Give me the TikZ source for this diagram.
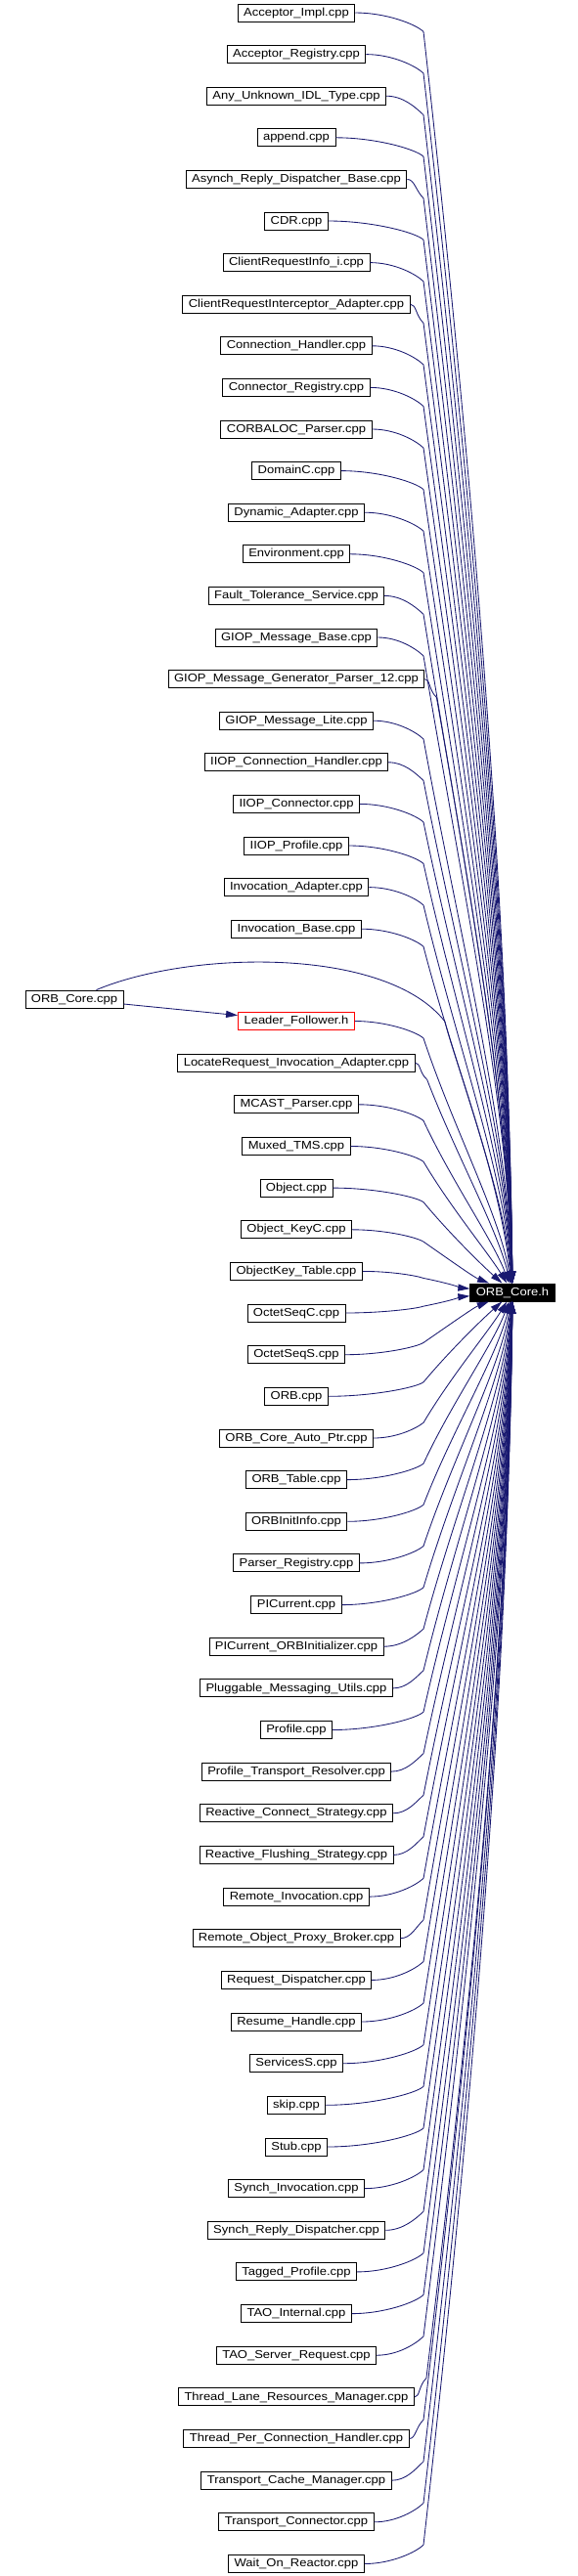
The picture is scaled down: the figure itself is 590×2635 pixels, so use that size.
\documentclass[tikz,border=0pt]{standalone}
\usepackage{fontspec}
\usepackage{xcolor}
\usepackage{tikz}
\usetikzlibrary{arrows.meta,calc}
\newfontfamily\dotfont{Liberation Sans}[FakeStretch=1.12]
\definecolor{edgeblue}{HTML}{191970}

\begin{document}
\begin{tikzpicture}[x=1pt, y=1pt,
  file/.style={draw, line width=0.9pt, minimum height=18pt, inner xsep=6pt, inner ysep=0pt,
    text height=8.6pt, text depth=2.4pt, font={\dotfont\fontsize{11.6pt}{13pt}\selectfont}},
  hfile/.style={file, draw=red},
  focus/.style={file, fill=black, text=white},
  arr/.style={draw=edgeblue, line width=0.85pt, -{Triangle[length=12pt,width=7pt]}},
  dep/.style={arr, to path={
    let \p1=(\tikztostart), \p2=(\tikztotarget),
        \n1={((\y2)-(\y1))/(abs((\y2)-(\y1))+40)*20},
        \n2={max(433,\x1+12)},
        \n3={(\y2)-(\y1)-(\n1)},
        \n4={520-50*exp(-abs(\n3)/150)},
        \n5={\n2+25+0.02*abs(\n3)}
    in .. controls (0.55*\x1+0.45*\n2, \y1) and (\n2-8, \y1+0.6*\n1) .. (\n2, \y1+\n1)
       .. controls (\n5, \y1+\n1+0.35*\n3) and (\n4, \y2-0.3*\n3) .. (\tikztotarget) \tikztonodes}}]
  \useasboundingbox (0,0) rectangle (590,-2635);
  % the header and the files that include it
  \node[focus] (core) at (524,-1322) {ORB\_Core.h};
  \node[file] (acceptorimpl) at (303,-13)    {Acceptor\_Impl.cpp};
  \node[file] (acceptorreg)  at (303,-55.6)  {Acceptor\_Registry.cpp};
  \node[file] (anyunknown)   at (303,-98.2)  {Any\_Unknown\_IDL\_Type.cpp};
  \node[file] (append)       at (303,-140.8) {append.cpp};
  \node[file] (asynchrdb)    at (303,-183.4) {Asynch\_Reply\_Dispatcher\_Base.cpp};
  \node[file] (cdr)          at (303,-226)   {CDR.cpp};
  \node[file] (cri)          at (303,-268.6) {ClientRequestInfo\_i.cpp};
  \node[file] (cria)         at (303,-311.2) {ClientRequestInterceptor\_Adapter.cpp};
  \node[file] (connhandler)  at (303,-353.8) {Connection\_Handler.cpp};
  \node[file] (connreg)      at (303,-396.4) {Connector\_Registry.cpp};
  \node[file] (corbaloc)     at (303,-439)   {CORBALOC\_Parser.cpp};
  \node[file] (domainc)      at (303,-481.6) {DomainC.cpp};
  \node[file] (dynadapter)   at (303,-524.2) {Dynamic\_Adapter.cpp};
  \node[file] (environment)  at (303,-566.8) {Environment.cpp};
  \node[file] (fts)          at (303,-609.4) {Fault\_Tolerance\_Service.cpp};
  \node[file] (giopbase)     at (303,-652)   {GIOP\_Message\_Base.cpp};
  \node[file] (giopgp)       at (303,-694.6) {GIOP\_Message\_Generator\_Parser\_12.cpp};
  \node[file] (gioplite)     at (303,-737.2) {GIOP\_Message\_Lite.cpp};
  \node[file] (iiopch)       at (303,-779.8) {IIOP\_Connection\_Handler.cpp};
  \node[file] (iiopconn)     at (303,-822.4) {IIOP\_Connector.cpp};
  \node[file] (iiopprofile)  at (303,-865)   {IIOP\_Profile.cpp};
  \node[file] (invadapter)   at (303,-907.6) {Invocation\_Adapter.cpp};
  \node[file] (invbase)      at (303,-950.2) {Invocation\_Base.cpp};
  \node[file] (orbcpp)       at (76,-1022)   {ORB\_Core.cpp};
  \node[hfile] (leader)      at (303,-1044.5) {Leader\_Follower.h};
  \node[file] (locatereq)    at (303,-1087.2) {LocateRequest\_Invocation\_Adapter.cpp};
  \node[file] (mcast)        at (303,-1129.8) {MCAST\_Parser.cpp};
  \node[file] (muxed)        at (303,-1172.5) {Muxed\_TMS.cpp};
  \node[file] (object)       at (303,-1215.1) {Object.cpp};
  \node[file] (objectkeyc)   at (303,-1257.8) {Object\_KeyC.cpp};
  \node[file] (objkeytable)  at (303,-1300.4) {ObjectKey\_Table.cpp};
  \node[file] (octetc)       at (303,-1343)   {OctetSeqC.cpp};
  \node[file] (octets)       at (303,-1385.7) {OctetSeqS.cpp};
  \node[file] (orb)          at (303,-1428.3) {ORB.cpp};
  \node[file] (orbautoptr)   at (303,-1471)   {ORB\_Core\_Auto\_Ptr.cpp};
  \node[file] (orbtable)     at (303,-1513.6) {ORB\_Table.cpp};
  \node[file] (orbinitinfo)  at (303,-1556.3) {ORBInitInfo.cpp};
  \node[file] (parserreg)    at (303,-1598.9) {Parser\_Registry.cpp};
  \node[file] (picurrent)    at (303,-1641.6) {PICurrent.cpp};
  \node[file] (picurinit)    at (303,-1684.2) {PICurrent\_ORBInitializer.cpp};
  \node[file] (pmu)          at (303,-1726.9) {Pluggable\_Messaging\_Utils.cpp};
  \node[file] (profile)      at (303,-1769.5) {Profile.cpp};
  \node[file] (ptr)          at (303,-1812.1) {Profile\_Transport\_Resolver.cpp};
  \node[file] (rcs)          at (303,-1854.8) {Reactive\_Connect\_Strategy.cpp};
  \node[file] (rfs)          at (303,-1897.4) {Reactive\_Flushing\_Strategy.cpp};
  \node[file] (reminv)       at (303,-1940.1) {Remote\_Invocation.cpp};
  \node[file] (ropb)         at (303,-1982.7) {Remote\_Object\_Proxy\_Broker.cpp};
  \node[file] (reqdisp)      at (303,-2025.4) {Request\_Dispatcher.cpp};
  \node[file] (resume)       at (303,-2068)   {Resume\_Handle.cpp};
  \node[file] (servicess)    at (303,-2110.7) {ServicesS.cpp};
  \node[file] (skip)         at (303,-2153.3) {skip.cpp};
  \node[file] (stub)         at (303,-2196)   {Stub.cpp};
  \node[file] (synchinv)     at (303,-2238.6) {Synch\_Invocation.cpp};
  \node[file] (synchrd)      at (303,-2281.3) {Synch\_Reply\_Dispatcher.cpp};
  \node[file] (tagged)       at (303,-2323.9) {Tagged\_Profile.cpp};
  \node[file] (taointernal)  at (303,-2366.6) {TAO\_Internal.cpp};
  \node[file] (taoserver)    at (303,-2409.2) {TAO\_Server\_Request.cpp};
  \node[file] (tlrm)         at (303,-2451.9) {Thread\_Lane\_Resources\_Manager.cpp};
  \node[file] (tpch)         at (303,-2494.5) {Thread\_Per\_Connection\_Handler.cpp};
  \node[file] (tcm)          at (303,-2537.2) {Transport\_Cache\_Manager.cpp};
  \node[file] (tconn)        at (303,-2579.8) {Transport\_Connector.cpp};
  \node[file] (wor)          at (303,-2622.5) {Wait\_On\_Reactor.cpp};
  % include edges
  \draw[arr] (orbcpp) -- (leader);
  \draw[arr] (orbcpp) .. controls (195,-972) and (395,-968) .. (455,-1045)
    .. controls (463,-1080) and (510,-1200) .. (core);
  \draw[dep] (acceptorimpl.east) to (core);
  \draw[dep] (acceptorreg.east) to (core);
  \draw[dep] (anyunknown.east) to (core);
  \draw[dep] (append.east) to (core);
  \draw[dep] (asynchrdb.east) to (core);
  \draw[dep] (cdr.east) to (core);
  \draw[dep] (cri.east) to (core);
  \draw[dep] (cria.east) to (core);
  \draw[dep] (connhandler.east) to (core);
  \draw[dep] (connreg.east) to (core);
  \draw[dep] (corbaloc.east) to (core);
  \draw[dep] (domainc.east) to (core);
  \draw[dep] (dynadapter.east) to (core);
  \draw[dep] (environment.east) to (core);
  \draw[dep] (fts.east) to (core);
  \draw[dep] (giopbase.east) to (core);
  \draw[dep] (giopgp.east) to (core);
  \draw[dep] (gioplite.east) to (core);
  \draw[dep] (iiopch.east) to (core);
  \draw[dep] (iiopconn.east) to (core);
  \draw[dep] (iiopprofile.east) to (core);
  \draw[dep] (invadapter.east) to (core);
  \draw[dep] (invbase.east) to (core);
  \draw[dep] (leader.east) to (core);
  \draw[dep] (locatereq.east) to (core);
  \draw[dep] (mcast.east) to (core);
  \draw[dep] (muxed.east) to (core);
  \draw[dep] (object.east) to (core);
  \draw[dep] (objectkeyc.east) to (core);
  \draw[dep] (objkeytable.east) to (core);
  \draw[dep] (octetc.east) to (core);
  \draw[dep] (octets.east) to (core);
  \draw[dep] (orb.east) to (core);
  \draw[dep] (orbautoptr.east) to (core);
  \draw[dep] (orbtable.east) to (core);
  \draw[dep] (orbinitinfo.east) to (core);
  \draw[dep] (parserreg.east) to (core);
  \draw[dep] (picurrent.east) to (core);
  \draw[dep] (picurinit.east) to (core);
  \draw[dep] (pmu.east) to (core);
  \draw[dep] (profile.east) to (core);
  \draw[dep] (ptr.east) to (core);
  \draw[dep] (rcs.east) to (core);
  \draw[dep] (rfs.east) to (core);
  \draw[dep] (reminv.east) to (core);
  \draw[dep] (ropb.east) to (core);
  \draw[dep] (reqdisp.east) to (core);
  \draw[dep] (resume.east) to (core);
  \draw[dep] (servicess.east) to (core);
  \draw[dep] (skip.east) to (core);
  \draw[dep] (stub.east) to (core);
  \draw[dep] (synchinv.east) to (core);
  \draw[dep] (synchrd.east) to (core);
  \draw[dep] (tagged.east) to (core);
  \draw[dep] (taointernal.east) to (core);
  \draw[dep] (taoserver.east) to (core);
  \draw[dep] (tlrm.east) to (core);
  \draw[dep] (tpch.east) to (core);
  \draw[dep] (tcm.east) to (core);
  \draw[dep] (tconn.east) to (core);
  \draw[dep] (wor.east) to (core);
\end{tikzpicture}
\end{document}
